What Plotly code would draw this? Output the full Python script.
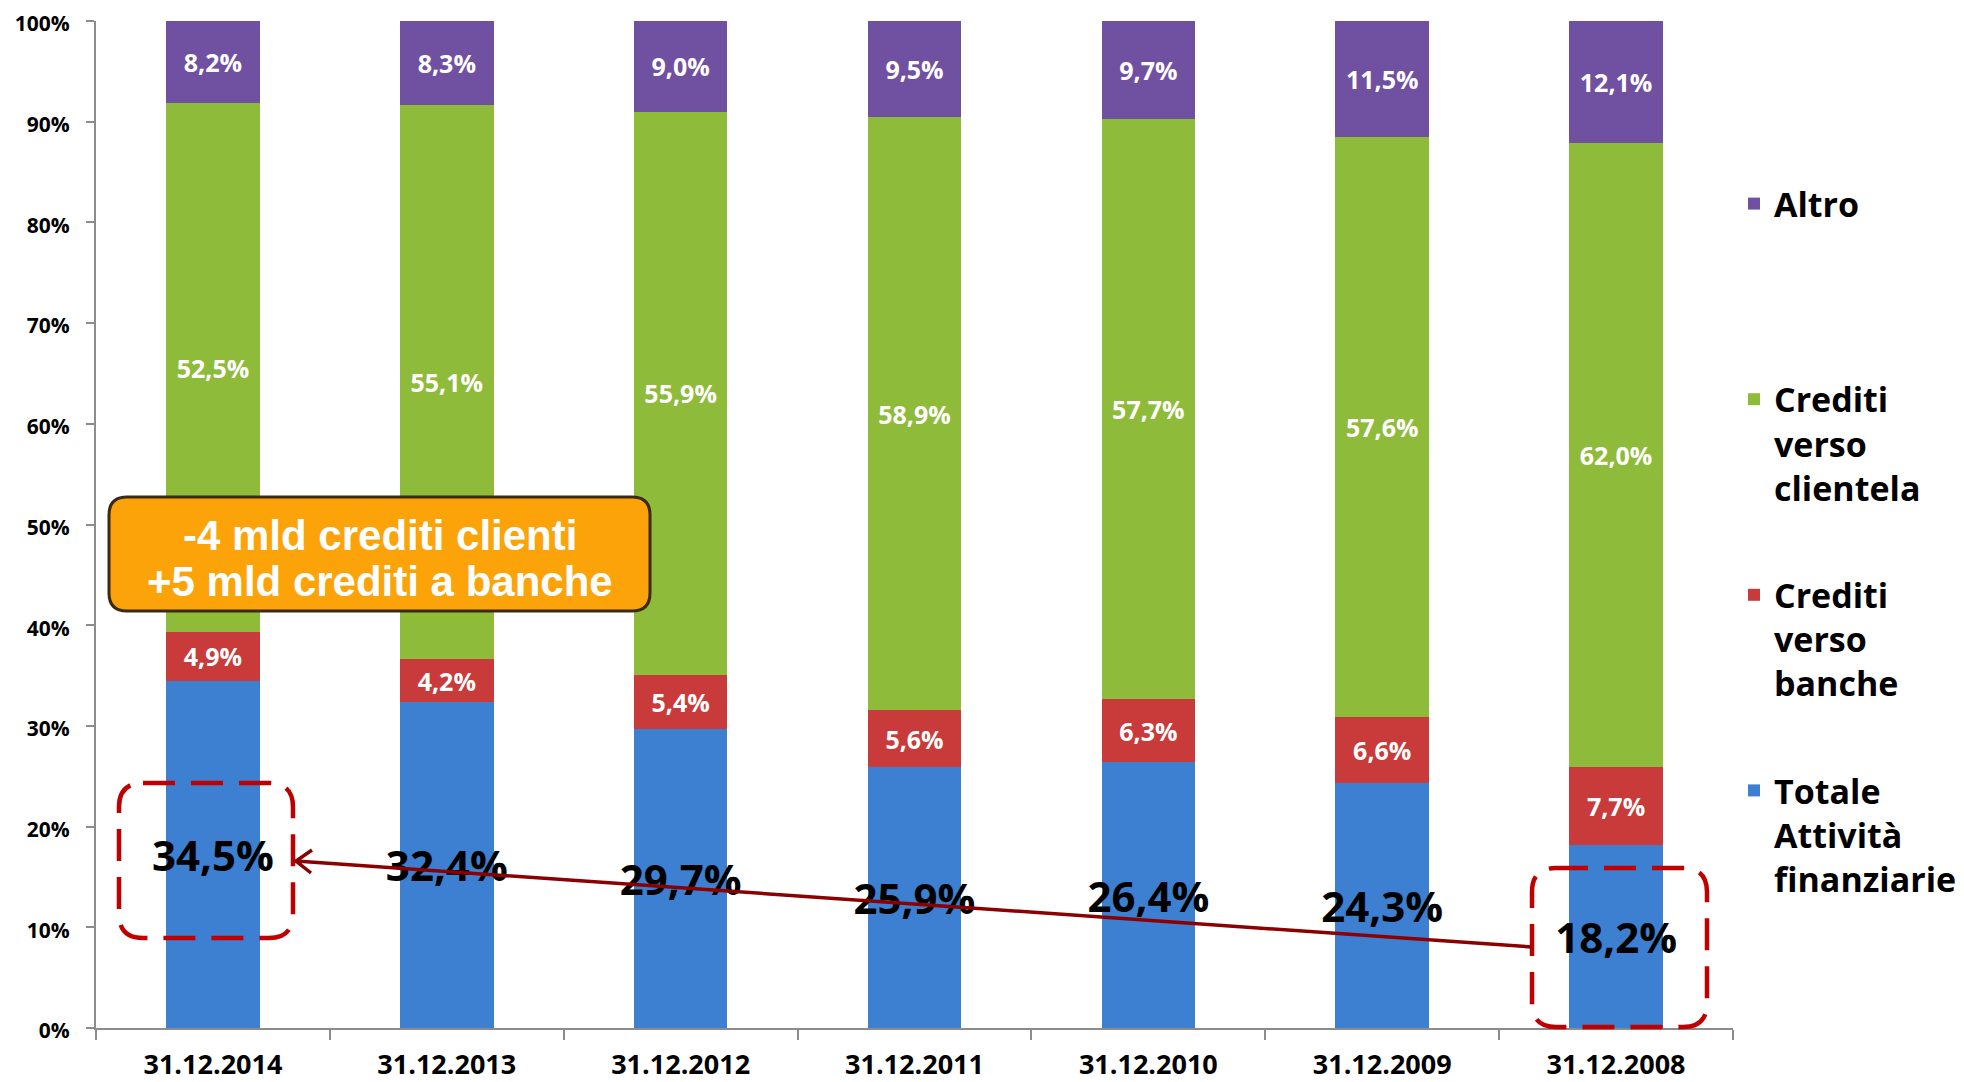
import plotly.graph_objects as go

# ---------------- data ----------------
categories = ["31.12.2014", "31.12.2013", "31.12.2012", "31.12.2011",
              "31.12.2010", "31.12.2009", "31.12.2008"]
totale_attivita = [34.5, 32.4, 29.7, 25.9, 26.4, 24.3, 18.2]
crediti_banche = [4.9, 4.2, 5.4, 5.6, 6.3, 6.6, 7.7]
crediti_clientela = [52.5, 55.1, 55.9, 58.9, 57.7, 57.6, 62.0]
altro = [8.2, 8.3, 9.0, 9.5, 9.7, 11.5, 12.1]
y_ticks = [0, 10, 20, 30, 40, 50, 60, 70, 80, 90, 100]
y_ticklabels = [f"{v}%" for v in y_ticks]
note_lines = ["-4 mld crediti clienti", "+5 mld crediti a banche"]

# ---------------- layout geometry ----------------
# the page body has an 8px margin, so the figure is drawn 8px in from
# the top-left of the window; all screen positions below are window pixels.
OFF = 8
WIN_W, WIN_H = 1964, 1082
W, H = WIN_W - OFF, WIN_H - OFF
SL, SR, ST, SB = 96, 1733, 21, 1028          # plot area in window pixels
L, R, T, B = SL - OFF, SR - OFF, ST - OFF, SB - OFF


def px(x):
    return (x - SL) / (SR - SL)


def py(y):
    return (SB - y) / (SB - ST)


def rounded_rect(x0, y0, x1, y1, r):
    pts = [
        f"M{px(x0 + r)},{py(y0)}",
        f"L{px(x1 - r)},{py(y0)}",
        f"Q{px(x1)},{py(y0)} {px(x1)},{py(y0 + r)}",
        f"L{px(x1)},{py(y1 - r)}",
        f"Q{px(x1)},{py(y1)} {px(x1 - r)},{py(y1)}",
        f"L{px(x0 + r)},{py(y1)}",
        f"Q{px(x0)},{py(y1)} {px(x0)},{py(y1 - r)}",
        f"L{px(x0)},{py(y0 + r)}",
        f"Q{px(x0)},{py(y0)} {px(x0 + r)},{py(y0)}",
        "Z",
    ]
    return " ".join(pts)


def fmt(v):
    return f"{v:.1f}".replace(".", ",") + "%"


FONT = "Open Sans"

# name, values, colour, label colour, label size, legend rank
series = [
    ("Totale<br>Attività<br>finanziarie", totale_attivita, "#3D7FD0", "black", 42, 4),
    ("Crediti<br>verso<br>banche", crediti_banche, "#C83B3A", "white", 25, 3),
    ("Crediti<br>verso<br>clientela", crediti_clientela, "#8FBB3B", "white", 25, 2),
    ("Altro<br>&nbsp;<br>&nbsp;", altro, "#7051A1", "white", 25, 1),
]

fig = go.Figure()
for i, (name, vals, color, tcolor, tsize, rank) in enumerate(series):
    fig.add_trace(go.Bar(
        x=categories, y=vals, name=name, legendgroup=str(i), legendrank=rank,
        marker=dict(color=color, line=dict(width=0)),
        text=[fmt(v) for v in vals],
        textposition="inside", insidetextanchor="middle",
        textangle=0, constraintext="none",
        textfont=dict(family=FONT, size=tsize, color=tcolor, weight="bold"),
        hoverinfo="skip",
    ))

shapes = []
# dashed highlight boxes
shapes.append(dict(type="path", xref="paper", yref="paper",
                   path=rounded_rect(119, 783, 293, 938, 24),
                   line=dict(color="#C00000", width=4.5, dash="32px,16px")))
shapes.append(dict(type="path", xref="paper", yref="paper",
                   path=rounded_rect(1532, 868, 1707, 1027, 24),
                   line=dict(color="#C00000", width=4.5, dash="32px,16px")))
# arrow (tail at 2008 box -> tip at 2014 box)
tip = (296, 861)
tail = (1532, 947)
arm1 = (311, 873)
arm2 = (312, 850)
arrow_path = (f"M{px(tail[0])},{py(tail[1])} L{px(tip[0])},{py(tip[1])} "
              f"M{px(arm1[0])},{py(arm1[1])} L{px(tip[0])},{py(tip[1])} "
              f"L{px(arm2[0])},{py(arm2[1])}")
shapes.append(dict(type="path", xref="paper", yref="paper", path=arrow_path,
                   line=dict(color="#8B0000", width=3.5)))
# orange note box
shapes.append(dict(type="path", xref="paper", yref="paper",
                   path=rounded_rect(109, 497, 650, 611, 18),
                   fillcolor="#FCA30A", line=dict(color="#3A2A12", width=3)))

annotations = []
for line_text, yc in zip(note_lines, [535, 581]):
    annotations.append(dict(
        x=px((109 + 650) / 2), y=py(yc), xref="paper", yref="paper",
        text=line_text, showarrow=False,
        font=dict(family="Liberation Sans", size=42, color="white", weight="bold"),
        xanchor="center", yanchor="middle",
    ))

fig.update_layout(
    width=W, height=H,
    margin=dict(l=L, r=W - R, t=T, b=H - B, pad=0, autoexpand=False),
    paper_bgcolor="white", plot_bgcolor="white",
    barmode="stack", barnorm="percent", bargap=0.6,
    shapes=shapes, annotations=annotations,
    showlegend=True,
    legend=dict(
        x=px(1734), y=py(175), xanchor="left", yanchor="top",
        traceorder="grouped", tracegroupgap=60, valign="top",
        font=dict(family=FONT, size=34, color="black", weight="bold"),
        bgcolor="rgba(0,0,0,0)",
    ),
    xaxis=dict(
        type="category", categoryorder="array", categoryarray=categories,
        showgrid=False, showline=True, linecolor="#8C8C8C", linewidth=2,
        ticks="outside", tickson="boundaries", ticklen=10, tickwidth=2,
        tickcolor="#8C8C8C", ticklabelstandoff=12,
        tickfont=dict(family=FONT, size=27, color="black", weight="bold"),
    ),
    yaxis=dict(
        range=[0, 100], tickmode="array", tickvals=y_ticks, ticktext=y_ticklabels,
        showgrid=False, zeroline=False, showline=True, linecolor="#8C8C8C",
        linewidth=2, ticks="outside", ticklen=8, tickwidth=2,
        tickcolor="#8C8C8C", ticklabelstandoff=12, ticklabeloverflow="allow",
        ticklabelshift=3,
        tickfont=dict(family=FONT, size=21, color="black", weight="bold"),
    ),
)

fig.write_html("out.html")
